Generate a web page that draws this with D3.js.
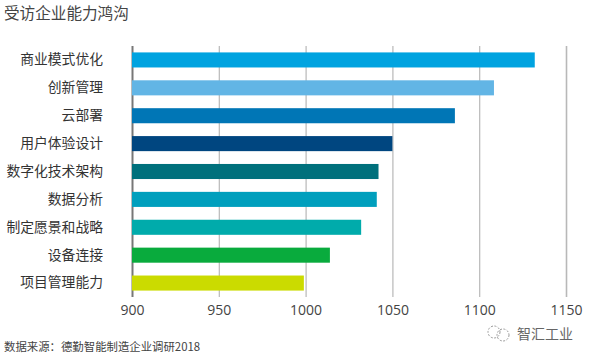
<!DOCTYPE html>
<html>
<head>
<meta charset="utf-8">
<script src="https://cdn.jsdelivr.net/npm/d3@7"></script>
<style>
html, body { margin: 0; padding: 0; background: #fff; }
text { font-family: "Noto Sans CJK SC", "Open Sans", sans-serif; }
</style>
</head>
<body>
<div id="chart"></div>
<script>
// values
const categories = ['商业模式优化', '创新管理', '云部署', '用户体验设计', '数字化技术架构', '数据分析', '制定愿景和战略', '设备连接', '项目管理能力'];
const scores = [1132, 1108.5, 1086, 1050, 1042, 1041, 1032, 1014, 999];
const barColors = ['#00a3e0', '#62b5e5', '#0076b6', '#004680', '#00707c', '#009fbd', '#00abab', '#09ab3d', '#cbdb00'];
const xTicks = [900, 950, 1000, 1050, 1100, 1150];

const width = 591, height = 359;
const svg = d3.select('#chart').append('svg')
    .attr('width', width)
    .attr('height', height)
    .style('display', 'block');

const scaleX = d3.scaleLinear([900, 1150], [132, 566]);
const scaleY = d3.scaleBand(categories, [46, 297]).paddingInner(0.46).paddingOuter(0.23);

// gridlines come from the x axis ticks, they run behind the bars
const axisX = svg.append('g')
    .attr('transform', 'translate(0,297)')
    .call(d3.axisBottom(scaleX).tickValues(xTicks).tickFormat(d3.format('d')).tickSize(-251).tickPadding(8));
axisX.select('.domain').remove();
axisX.selectAll('line')
    .attr('stroke', d => d === 900 ? '#777' : '#b8b8b8')
    .attr('stroke-width', d => d === 900 ? 2 : d === 1150 ? 1.6 : 1.2);
axisX.selectAll('text')
    .style('font-family', '"Open Sans", sans-serif')
    .style('font-size', '14px')
    .attr('fill', '#444');

// bars
svg.selectAll('rect.bar')
    .data(categories)
    .enter()
    .append('rect')
    .classed('bar', true)
    .attr('x', scaleX(900))
    .attr('y', d => scaleY(d))
    .attr('width', (d, i) => scaleX(scores[i]) - scaleX(900))
    .attr('height', scaleY.bandwidth())
    .attr('fill', (d, i) => barColors[i]);

// category labels
const axisY = svg.append('g')
    .attr('transform', 'translate(132,0)')
    .call(d3.axisLeft(scaleY).tickSize(0).tickPadding(29));
axisY.select('.domain').remove();
axisY.selectAll('text')
    .style('font-family', '"Noto Sans CJK SC", sans-serif')
    .style('font-size', '13.8px')
    .attr('fill', '#333');

// title and source
svg.append('text')
    .attr('x', 4).attr('y', 19)
    .style('font-size', '15.6px')
    .attr('fill', '#444')
    .text('受访企业能力鸿沟');
svg.append('text')
    .attr('x', 4).attr('y', 351)
    .style('font-size', '11.4px')
    .attr('fill', '#444')
    .text('数据来源：德勤智能制造企业调研2018');

// watermark, bottom right
const mark = svg.append('g').attr('fill', 'none').attr('stroke', '#999').attr('stroke-dasharray', '2 1.5');
mark.append('circle').attr('cx', 494).attr('cy', 332).attr('r', 6);
mark.append('circle').attr('cx', 503).attr('cy', 335).attr('r', 6);
svg.append('text')
    .attr('x', 517).attr('y', 339)
    .style('font-size', '14px')
    .attr('fill', '#666')
    .text('智汇工业');
</script>
</body>
</html>
